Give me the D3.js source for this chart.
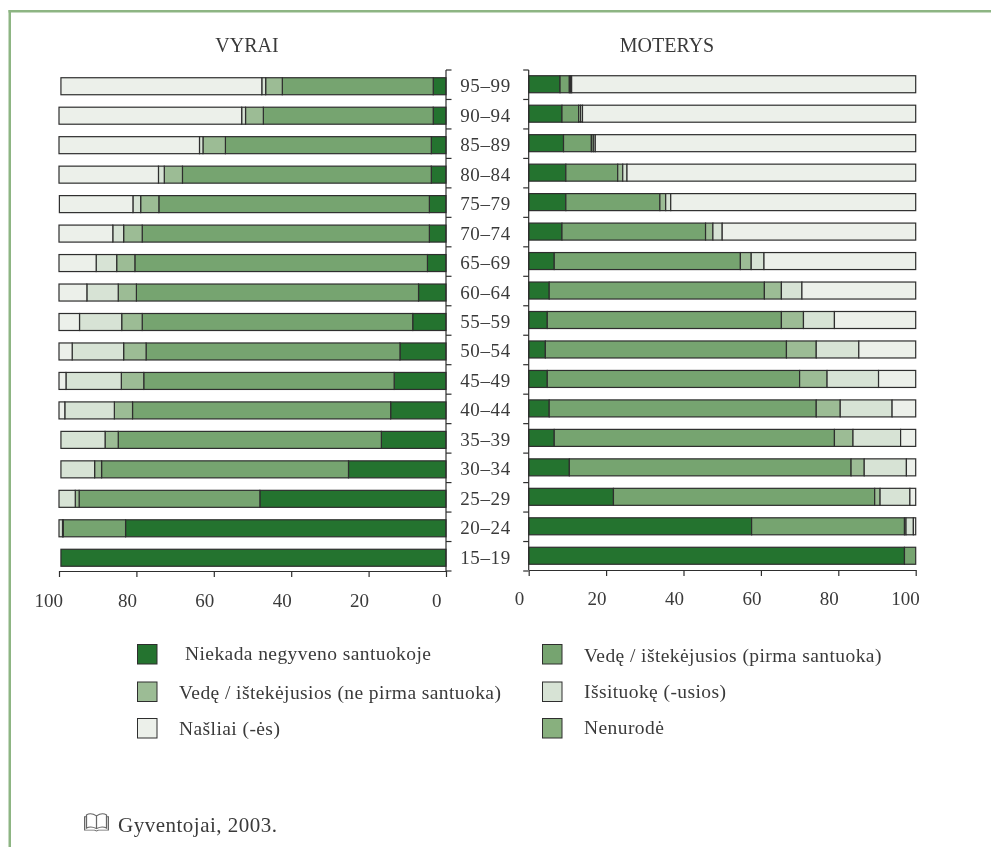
<!DOCTYPE html>
<html><head><meta charset="utf-8">
<script src="https://cdn.jsdelivr.net/npm/d3@7"></script>
<style>
html,body{margin:0;padding:0;background:#fff}
svg{display:block;filter:blur(0.3px)}
text{font-family:"Liberation Serif",serif;fill:#3a3a3a}
</style></head><body>
<svg id="c" width="991" height="847"></svg>
<script>
const ages = ["95–99","90–94","85–89","80–84","75–79","70–74","65–69","60–64","55–59","50–54","45–49","40–44","35–39","30–34","25–29","20–24","15–19"];
const xTicks = [0,20,40,60,80,100];
const seriesKeys = ["never","first","again","divorced","widowed","unknown"];
const legendLabels = ["Niekada negyveno santuokoje","Vedę / ištekėjusios (pirma santuoka)","Vedę / ištekėjusios (ne pirma santuoka)","Išsituokę (-usios)","Našliai (-ės)","Nenurodė"];
const colors = ["#24732f","#76a470","#9cbc95","#d7e3d5","#ecf0ea","#88b07e"];

const menNever    = [3.3,3.3,3.8,3.8,4.3,4.3,4.8,7.1,8.6,11.9,13.4,14.3,16.7,25.2,48.1,82.8,99.5];
const menFirst    = [39.0,43.9,53.2,64.3,69.9,74.2,75.6,72.9,69.9,65.6,64.7,66.7,68.0,63.8,46.7,16.1,0];
const menAgain    = [4.3,4.6,5.8,4.7,4.7,4.8,4.7,4.7,5.3,5.8,5.8,4.7,3.4,1.8,1.0,0.2,0];
const menDivorced = [1.0,1.0,0.9,1.5,2.0,2.8,5.3,8.1,10.9,13.3,14.3,12.8,11.4,8.7,4.2,0.9,0];
const menWidowed  = [51.9,47.2,36.3,25.7,19.0,13.9,9.6,7.2,5.3,3.4,1.8,1.5,0,0,0,0,0];
const menUnknown  = [0,0,0,0,0,0,0,0,0,0,0,0,0,0,0,0,0];

const womenNever    = [8.1,8.6,9.0,9.6,9.6,8.6,6.6,5.3,4.8,4.3,4.8,5.3,6.6,10.5,21.9,57.6,97.1];
const womenFirst    = [2.4,4.3,7.2,13.4,24.3,37.1,48.1,55.6,60.5,62.3,65.2,69.0,72.4,72.8,67.5,39.5,2.9];
const womenAgain    = [0.3,0.5,0.5,1.3,1.5,1.9,2.8,4.4,5.7,7.7,7.1,6.2,4.8,3.4,1.4,0.4,0];
const womenDivorced = [0.3,0.5,0.5,1.1,1.3,2.4,3.3,5.3,8.0,11.0,13.3,13.4,12.3,10.9,7.7,1.9,0];
const womenWidowed  = [88.9,86.1,82.8,74.6,63.3,50.0,39.2,29.4,21.0,14.7,9.6,6.1,3.9,2.4,1.5,0.6,0];
const womenUnknown  = [0,0,0,0,0,0,0,0,0,0,0,0,0,0,0,0,0];

const rows = (arrs) => ages.map((a,i)=>{const o={age:a};seriesKeys.forEach((k,j)=>o[k]=arrs[j][i]);return o;});
const menRows = rows([menNever,menFirst,menAgain,menDivorced,menWidowed,menUnknown]);
const womenRows = rows([womenNever,womenFirst,womenAgain,womenDivorced,womenWidowed,womenUnknown]);

const svg = d3.select("#c");
const frame = "#8db583", ink = "#2e2e2e";

svg.append("rect").attr("x",8.5).attr("y",10).attr("width",983).attr("height",2.5).attr("fill",frame);
svg.append("rect").attr("x",8.5).attr("y",10).attr("width",2.5).attr("height",837).attr("fill",frame);

const color = d3.scaleOrdinal(seriesKeys,colors);
const stack = d3.stack().keys(seriesKeys);
const xMen = d3.scaleLinear([0,100],[446,59]);
const xWomen = d3.scaleLinear([0,100],[528.7,915.7]);
const tickY = d3.scaleLinear([0,ages.length],[70,571]);
const labelDx = v => v===0 ? -5 : v===100 ? 3.5 : 0;

function panel(data,x,yTop,axisX,tickDir,axisBottomY,labelBaseline,title,titleX){
  const y = d3.scaleBand(ages,[yTop,yTop+ages.length*tickY(1)-ages.length*tickY(0)]).paddingInner(0.423).paddingOuter(0.2115);
  svg.append("g").selectAll("g").data(stack(data)).join("g")
    .attr("fill",d=>color(d.key))
    .selectAll("rect").data(d=>d.filter(s=>s[1]>s[0])).join("rect")
    .attr("x",d=>Math.min(x(d[0]),x(d[1])))
    .attr("width",d=>Math.abs(x(d[1])-x(d[0])))
    .attr("y",d=>y(d.data.age))
    .attr("height",y.bandwidth())
    .attr("stroke",ink).attr("stroke-width",1.2);

  const vert = svg.append("g");
  vert.append("line").attr("x1",axisX).attr("x2",axisX).attr("y1",tickY(0)).attr("y2",axisBottomY).attr("stroke",ink).attr("stroke-width",1.2);
  vert.selectAll("line.t").data(d3.range(ages.length+1)).join("line").attr("class","t")
    .attr("x1",axisX).attr("x2",axisX+tickDir*5.5)
    .attr("y1",d=>tickY(d)).attr("y2",d=>tickY(d))
    .attr("stroke",ink).attr("stroke-width",1.2);

  const ax = svg.append("g").attr("transform",`translate(0,${axisBottomY})`)
    .call(d3.axisBottom(x).tickValues(xTicks).tickSize(6).tickSizeOuter(0).tickPadding(20));
  ax.select(".domain").attr("stroke",ink).attr("stroke-width",1.2);
  ax.selectAll(".tick line").attr("stroke",ink).attr("stroke-width",1.2);
  ax.selectAll(".tick text").attr("font-size",19).attr("font-family","Liberation Serif").attr("fill","#3a3a3a")
    .attr("text-anchor","end").attr("dx",d=>labelDx(d)).attr("y",labelBaseline-axisBottomY).attr("dy",0);

  svg.append("text").attr("x",titleX).attr("y",52).attr("text-anchor","middle").attr("font-size",20).text(title);
}

panel(menRows,xMen,71.5,446,1,571,607,"VYRAI",247);
panel(womenRows,xWomen,69.5,528.7,-1,570,605,"MOTERYS",667);

svg.append("g").selectAll("text").data(ages).join("text")
  .attr("x",485.5).attr("y",(d,i)=>(tickY(i)+tickY(i+1))/2+7.5)
  .attr("text-anchor","middle").attr("font-size",19).attr("letter-spacing",0.6).text(d=>d);

// legend: two columns, three rows
const legendX = [137,542], legendTextX = [179,584], legendY = [644,681.5,718];
const legendBase = [[660,699,735],[662,698,734]];
legendLabels.forEach((lab,i)=>{
  const c=i%2,r=Math.floor(i/2);
  svg.append("rect").attr("x",legendX[c]+.5).attr("y",legendY[r]+.5).attr("width",19.5).attr("height",19.5)
    .attr("fill",colors[i]).attr("stroke",ink).attr("stroke-width",1);
  svg.append("text").attr("x",i===0?185:legendTextX[c]).attr("y",legendBase[c][r])
    .attr("font-size",19.5).attr("letter-spacing",0.42).text(lab);
});

// source with book glyph
const book = svg.append("g").attr("transform","translate(84,813) scale(1.25,0.95)").attr("fill","none").attr("stroke","#666").attr("stroke-width",1);
book.append("path").attr("d","M10 3C7 .5 4 .5 2 2V16C4 14.5 7 14.5 10 16.5C13 14.5 16 14.5 18 16V2C16 .5 13 .5 10 3V16.5");
book.append("path").attr("d","M2 4H.5V18H8.5L10 19L11.5 18H19.5V4H18");
svg.append("text").attr("x",118).attr("y",832).attr("font-size",21).attr("letter-spacing",0.5).text("Gyventojai, 2003.");
</script></body></html>
